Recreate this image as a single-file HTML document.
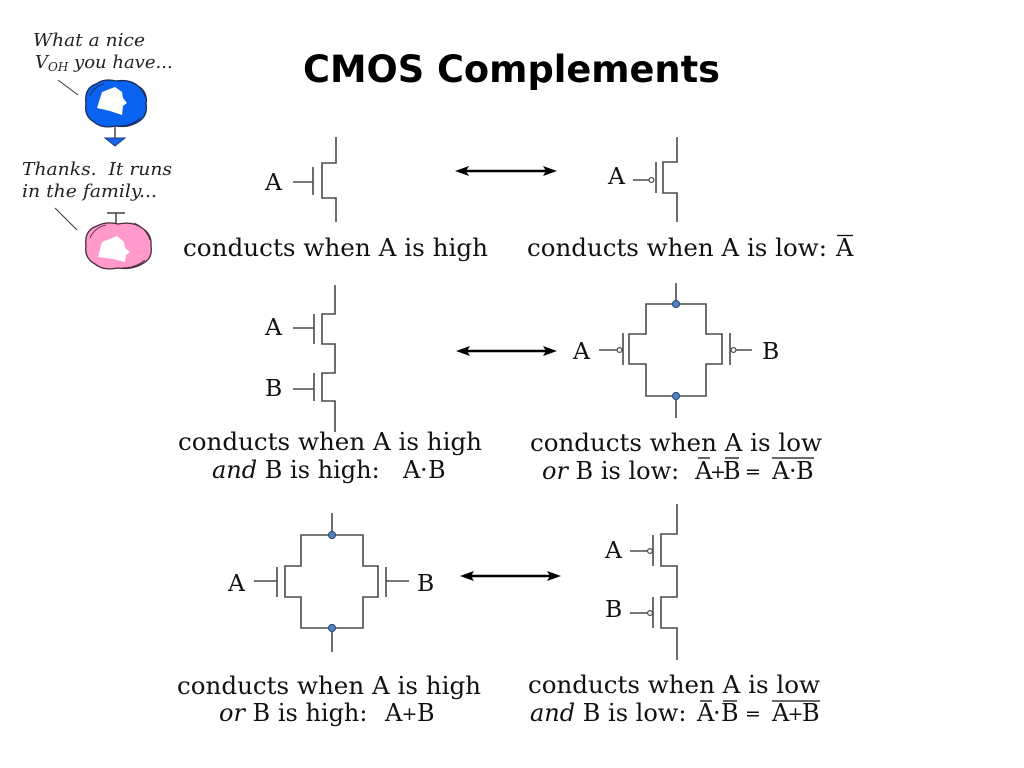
<!DOCTYPE html>
<html>
<head>
<meta charset="utf-8">
<style>
html,body{margin:0;padding:0;background:#fff;}
svg{display:block;}
.t{font-family:"DejaVu Serif","Liberation Serif",serif;font-size:24px;fill:#111;}
.l{font-family:"DejaVu Serif","Liberation Serif",serif;font-size:23.5px;fill:#111;}
.op{font-family:"DejaVu Serif","Liberation Serif",serif;font-size:19px;fill:#111;text-anchor:middle;}
.it{font-style:italic;}
.c{fill:none;stroke:#4a4a4a;stroke-width:1.6;}
.cart{font-family:"DejaVu Serif","Liberation Serif",serif;font-style:italic;font-size:18px;fill:#222;}
</style>
</head>
<body>
<svg width="1024" height="768" viewBox="0 0 1024 768" xmlns="http://www.w3.org/2000/svg">
<rect width="1024" height="768" fill="#fff"/>

<!-- Title -->
<text x="303" y="82" font-family="DejaVu Sans, Liberation Sans, sans-serif" font-weight="bold" font-size="37" fill="#000" textLength="417" lengthAdjust="spacingAndGlyphs">CMOS Complements</text>

<!-- Cartoon -->
<text class="cart" x="33" y="46" textLength="112" lengthAdjust="spacingAndGlyphs">What a nice</text>
<text class="cart" x="35" y="68">V<tspan font-size="12" dy="3">OH</tspan><tspan dy="-3"> you have...</tspan></text>
<line x1="58" y1="80" x2="78" y2="95" stroke="#333" stroke-width="1"/>
<path d="M86,104 Q84,88 96,84 Q104,78 116,81 Q130,79 138,86 Q148,92 146,104 Q148,116 138,122 Q128,128 116,126 Q102,129 94,122 Q84,116 86,104 Z" fill="#0a62f0" stroke="#1b2a55" stroke-width="1.3"/>
<path d="M90,96 Q94,86 104,84 M130,82 Q142,86 145,97 M140,118 Q132,126 120,126" fill="none" stroke="#1b2a55" stroke-width="0.9"/>
<polygon points="97,108 102,92 115,87 122,92 123,98 127,103 123,106 122,115 110,111" fill="#fff"/>
<line x1="115" y1="127" x2="115" y2="138" stroke="#444" stroke-width="1.5"/>
<polygon points="105,138 125,138 115,146" fill="#1a62e8" stroke="#1a3a80" stroke-width="1"/>

<text class="cart" x="22" y="175" textLength="150" lengthAdjust="spacingAndGlyphs">Thanks.&#160; It runs</text>
<text class="cart" x="22" y="197" textLength="135" lengthAdjust="spacingAndGlyphs">in the family...</text>
<line x1="55" y1="208" x2="77" y2="230" stroke="#333" stroke-width="1"/>
<line x1="107" y1="213" x2="125" y2="213" stroke="#444" stroke-width="1.5"/>
<line x1="116" y1="213" x2="116" y2="224" stroke="#444" stroke-width="1.5"/>
<path d="M86,246 Q84,230 97,226 Q106,221 118,224 Q133,221 142,228 Q152,234 151,246 Q153,259 142,264 Q131,270 118,268 Q103,271 95,264 Q84,258 86,246 Z" fill="#ff9acb" stroke="#4a2a3a" stroke-width="1.3"/>
<path d="M90,238 Q94,228 106,225 M134,223 Q146,228 150,240 M145,260 Q136,268 122,268" fill="none" stroke="#4a2a3a" stroke-width="0.9"/>
<polygon points="98,257 102,242 117,236 124,242 125,248 130,252 126,255 125,262 113,259" fill="#fff"/>

<!-- Arrows -->
<g fill="#000" stroke="none">
  <line x1="464" y1="171" x2="548" y2="171" stroke="#000" stroke-width="2.5"/>
  <polygon points="455,171 469,166 466,171 469,176"/>
  <polygon points="557,171 543,166 546,171 543,176"/>
  <line x1="465" y1="351" x2="548" y2="351" stroke="#000" stroke-width="2.5"/>
  <polygon points="456,351 470,346 467,351 470,356"/>
  <polygon points="557,351 543,346 546,351 543,356"/>
  <line x1="469" y1="576" x2="552" y2="576" stroke="#000" stroke-width="2.5"/>
  <polygon points="460,576 474,571 471,576 474,581"/>
  <polygon points="561,576 547,571 550,576 547,581"/>
</g>

<!-- Row 1 NMOS -->
<path class="c" d="M293,182 H313 M313,167 V195 M336,137 V163 H322 V198 H336 V222"/>
<text class="l" x="265" y="190">A</text>
<!-- Row 1 PMOS -->
<path class="c" d="M633,180 H649 M656,162 V193 M677,137 V162 H663 V193 H677 V222"/>
<circle cx="651.5" cy="180" r="2.4" fill="#fff" stroke="#4a4a4a" stroke-width="1.2"/>
<text class="l" x="608" y="184">A</text>

<!-- Row 1 captions -->
<text class="t" x="183" y="256" textLength="305" lengthAdjust="spacingAndGlyphs">conducts when A is high</text>
<text class="t" x="527" y="256" textLength="300" lengthAdjust="spacingAndGlyphs">conducts when A is low:</text>
<text class="t" x="836" y="256">A</text>
<line x1="837" y1="235.5" x2="853" y2="235.5" stroke="#111" stroke-width="1.3"/>

<!-- Row 2 NMOS series -->
<path class="c" d="M293,328 H314 M293,389 H314 M314,314 V344 M314,373 V401 M335,285 V314 H322 V344 H335 V373 H322 V401 H335 V432"/>
<text class="l" x="265" y="335">A</text>
<text class="l" x="265" y="396">B</text>

<!-- Row 2 PMOS parallel -->
<path class="c" d="M676,283 V304 M676,396 V418 M646,304 H706 V334 H722 V364 H706 V396 H646 V364 H629 V334 H646 Z M623,333 V365 M730,333 V365 M599,350 H617 M736,350 H752"/>
<circle cx="619.5" cy="350" r="2.4" fill="#fff" stroke="#4a4a4a" stroke-width="1.2"/>
<circle cx="733.5" cy="350" r="2.4" fill="#fff" stroke="#4a4a4a" stroke-width="1.2"/>
<circle cx="676" cy="304" r="3.6" fill="#4f81bd" stroke="#2c4a72" stroke-width="1"/>
<circle cx="676" cy="396" r="3.6" fill="#4f81bd" stroke="#2c4a72" stroke-width="1"/>
<text class="l" x="573" y="359">A</text>
<text class="l" x="762" y="359">B</text>

<!-- Row 2 captions -->
<text class="t" x="178" y="450" textLength="304" lengthAdjust="spacingAndGlyphs">conducts when A is high</text>
<text class="t" x="212" y="478"><tspan class="it">and</tspan> B is high:</text>
<text class="t" x="403" y="478">A</text>
<text class="t" x="420" y="478">·</text>
<text class="t" x="428" y="478">B</text>

<text class="t" x="530" y="451" textLength="292" lengthAdjust="spacingAndGlyphs">conducts when A is low</text>
<text class="t" x="542" y="479"><tspan class="it">or</tspan> B is low:</text>
<text class="t" x="695" y="479">A</text>
<text class="op" x="718" y="478">+</text>
<text class="t" x="723" y="479">B</text>
<text class="op" x="753" y="478">=</text>
<text class="t" x="772" y="479">A</text>
<text class="t" x="789" y="479">·</text>
<text class="t" x="796" y="479">B</text>
<g stroke="#111" stroke-width="1.3">
  <line x1="698" y1="458" x2="710" y2="458"/>
  <line x1="725" y1="458" x2="739" y2="458"/>
  <line x1="772" y1="458" x2="814" y2="458"/>
</g>

<!-- Row 3 NMOS parallel -->
<path class="c" d="M332,513 V535 M332,628 V652 M301,535 H363 V566 H378 V597 H363 V628 H301 V597 H285 V566 H301 Z M277,567 V597 M386,567 V597 M254,581 H277 M386,581 H409"/>
<circle cx="332" cy="535" r="3.6" fill="#4f81bd" stroke="#2c4a72" stroke-width="1"/>
<circle cx="332" cy="628" r="3.6" fill="#4f81bd" stroke="#2c4a72" stroke-width="1"/>
<text class="l" x="228" y="591">A</text>
<text class="l" x="417" y="591">B</text>

<!-- Row 3 PMOS series -->
<path class="c" d="M677,504 V534 H661 V566 H677 V597 H661 V628 H677 V660 M653,535 V566 M653,597 V628 M630,551 H647.6 M630,613 H647.6"/>
<circle cx="650" cy="551" r="2.4" fill="#fff" stroke="#4a4a4a" stroke-width="1.2"/>
<circle cx="650" cy="613" r="2.4" fill="#fff" stroke="#4a4a4a" stroke-width="1.2"/>
<text class="l" x="605" y="558">A</text>
<text class="l" x="605" y="617">B</text>

<!-- Row 3 captions -->
<text class="t" x="177" y="694" textLength="304" lengthAdjust="spacingAndGlyphs">conducts when A is high</text>
<text class="t" x="219" y="721"><tspan class="it">or</tspan> B is high:</text>
<text class="t" x="385" y="721">A</text>
<text class="op" x="409.5" y="720">+</text>
<text class="t" x="417" y="721">B</text>

<text class="t" x="528" y="693" textLength="292" lengthAdjust="spacingAndGlyphs">conducts when A is low</text>
<text class="t" x="530" y="721"><tspan class="it">and</tspan> B is low:</text>
<text class="t" x="697" y="721">A</text>
<text class="t" x="713" y="721">·</text>
<text class="t" x="721" y="721">B</text>
<text class="op" x="753" y="720">=</text>
<text class="t" x="772" y="721">A</text>
<text class="op" x="795.5" y="720">+</text>
<text class="t" x="802" y="721">B</text>
<g stroke="#111" stroke-width="1.3">
  <line x1="700" y1="701" x2="712" y2="701"/>
  <line x1="723" y1="701" x2="737" y2="701"/>
  <line x1="772" y1="701" x2="820" y2="701"/>
</g>
</svg>
</body>
</html>
